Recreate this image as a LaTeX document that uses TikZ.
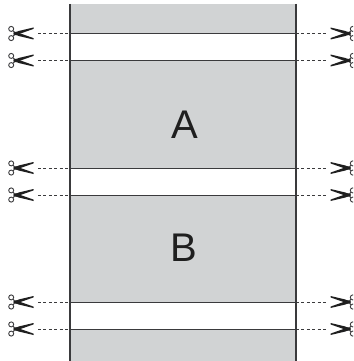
\documentclass[tikz,border=0pt]{standalone}
\usepackage{fontspec}
\setmainfont{Liberation Sans}
\definecolor{panel}{HTML}{D1D3D4}
\definecolor{ink}{HTML}{3A3A3C}
\tikzset{
  x=1pt,y=-1pt,
  panelfill/.style={fill=panel,draw=none},
  cutline/.style={draw=ink,line width=1pt},
  sideline/.style={draw=ink,line width=1.7pt},
  guide/.style={draw=ink,line width=0.9pt,dash pattern=on 3pt off 2.4pt},
  letter/.style={font=\fontsize{40}{40}\selectfont,text=black!88,inner sep=0pt},
  pics/shears/.style={code={
    \fill[black!88] (-15.5,-6) -- (-15.5,-4.6) -- (-2.5,0) -- (1,1.7) -- (4.5,1.5) -- (4.5,-0.4) -- (-1,-2.6) -- cycle;
    \fill[black!88] (-15.5,6) -- (-15.5,4.6) -- (-2.5,0) -- (1,-1.7) -- (4.5,-1.5) -- (4.5,0.4) -- (-1,2.6) -- cycle;
    \draw[ink,line width=0.9pt] (3.5,-1.5) -- (5,-2.6);
    \draw[ink,line width=0.9pt] (3.5,1.5) -- (5,2.6);
    \draw[ink,line width=0.9pt] (6.8,-4.6) circle (2.5);
    \draw[ink,line width=0.9pt] (6.8,4.6) circle (2.5);
  }}
}
\begin{document}
\begin{tikzpicture}
\useasboundingbox[fill=white] (0,0) rectangle (353,361);
\clip (0,0) rectangle (353,361);
\fill[panelfill] (70,4) rectangle (296,33.5);
\fill[panelfill] (70,60.5) rectangle (296,168);
\fill[panelfill] (70,195) rectangle (296,302);
\fill[panelfill] (70,329) rectangle (296,361);
\foreach \y in {33.5,60.5,168,195,302,329}{
  \draw[cutline] (70,\y) -- (296,\y);
  \draw[guide] (38,\y) -- (70,\y);
  \draw[guide] (296,\y) -- (326,\y);
  \path (18,\y) pic[xscale=-1] {shears};
  \path (346,\y) pic {shears};
}
\draw[sideline] (70,4) -- (70,361);
\draw[sideline] (296,4) -- (296,361);
\node[letter] (labelA) at (185,124.5) {A};
\node[letter] (labelB) at (184,247.5) {B};
\end{tikzpicture}
\end{document}
